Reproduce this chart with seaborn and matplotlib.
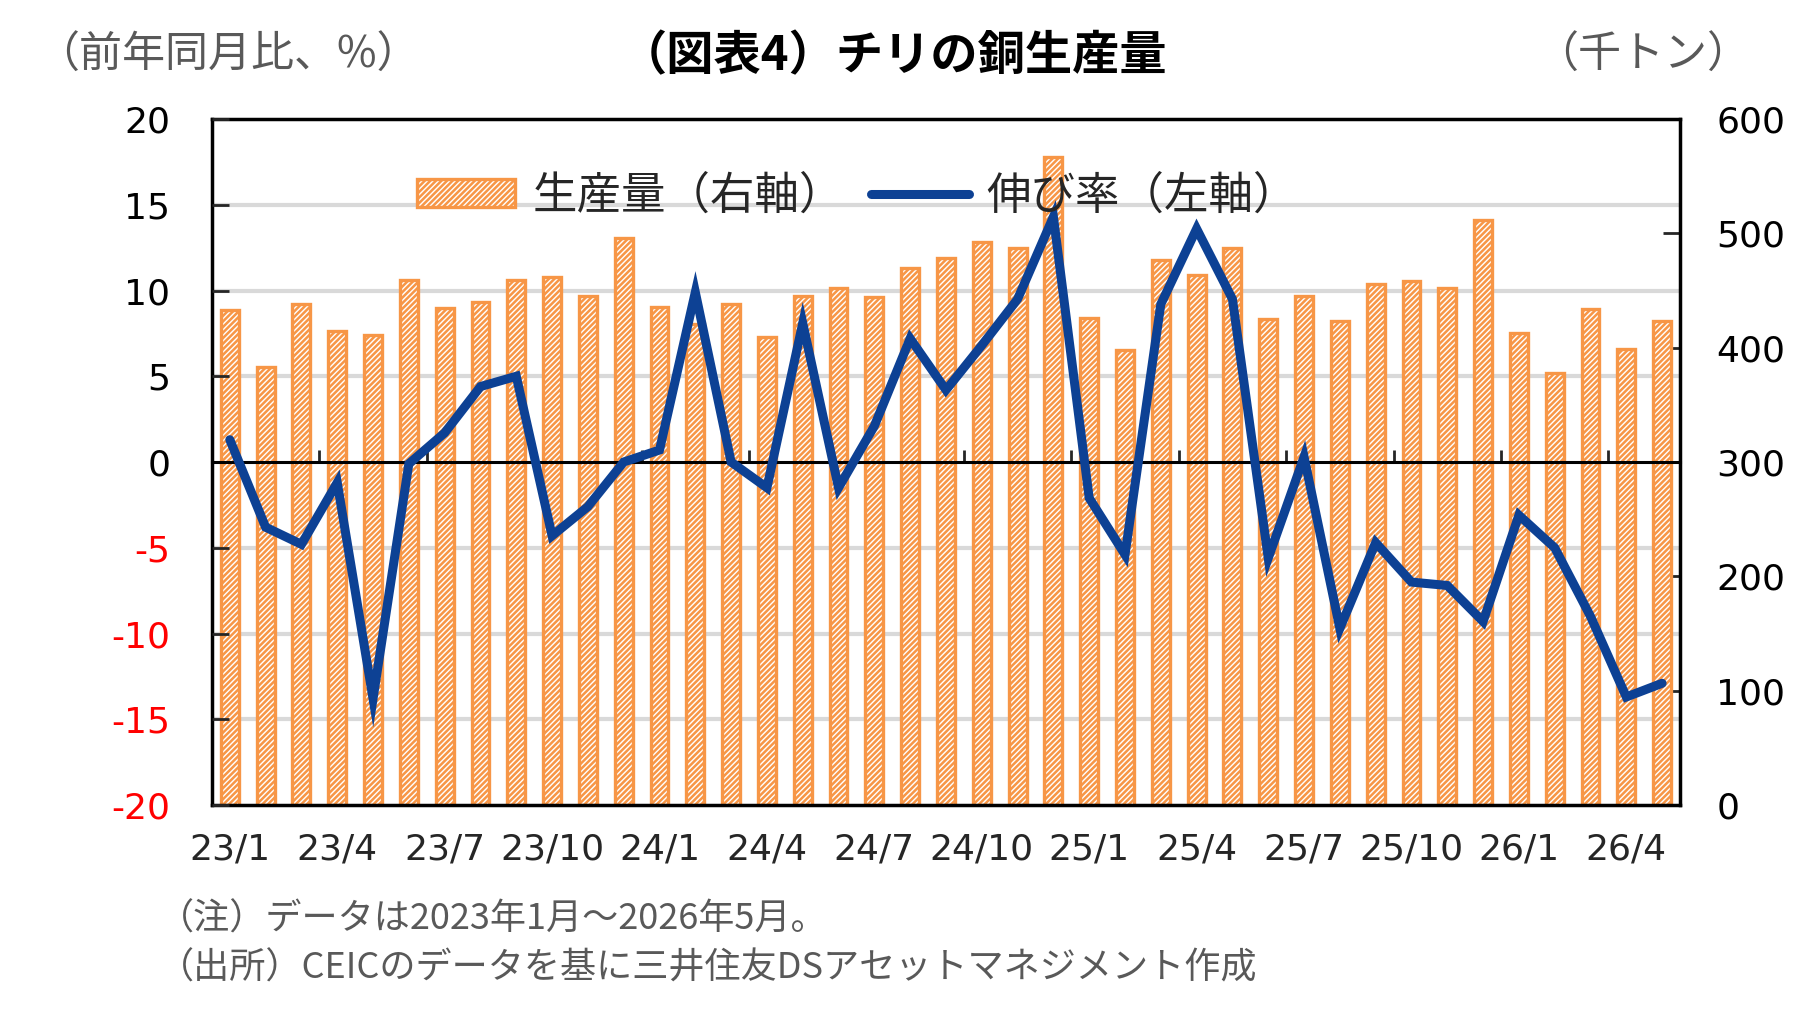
import numpy as np
import pandas as pd
import matplotlib
matplotlib.use("Agg")
import matplotlib.pyplot as plt
from matplotlib.ticker import FixedLocator
from matplotlib.patches import Patch
from matplotlib.lines import Line2D
import seaborn as sns

# ---- data ----
months = [f"{y}/{m}" for y in (23, 24, 25) for m in range(1, 13)] + [f"26/{m}" for m in range(1, 6)]
production = [433, 383, 438, 415, 411, 459, 435, 440, 459, 462, 445, 496,
              436, 421, 438, 409, 445, 452, 444, 470, 478, 492, 487, 567,
              426, 398, 477, 464, 487, 425, 445, 423, 456, 458, 452, 512,
              413, 378, 434, 399, 423]
growth = [1.3, -3.8, -4.8, -1.2, -13.8, -0.1, 1.7, 4.4, 5.0, -4.3, -2.6, 0.0,
          0.7, 9.9, 0.0, -1.5, 8.1, -1.5, 2.1, 7.2, 4.2, 6.8, 9.5, 14.3,
          -2.1, -5.4, 9.2, 13.6, 9.5, -5.6, 0.3, -9.7, -4.7, -7.0, -7.2, -9.3,
          -3.1, -5.0, -9.0, -13.7, -12.9]
left_ticks = [20, 15, 10, 5, 0, -5, -10, -15, -20]
right_ticks = [0, 100, 200, 300, 400, 500, 600]
label_every = 3

df = pd.DataFrame({"month": months, "pos": np.arange(len(months)),
                   "production": production, "growth": growth})

sns.set_theme(style="white")
plt.rcParams["font.family"] = ["Noto Sans CJK JP", "DejaVu Sans"]
plt.rcParams["hatch.linewidth"] = 1.8

ORANGE = "#F79646"
BLUE = "#0D4194"
GRAY = "#595959"
TICKFONT = ["DejaVu Sans"]

fig = plt.figure(figsize=(18.19, 10.18), dpi=100)
rect = [0.1165, 0.2092, 0.8071, 0.6739]
ax = fig.add_axes(rect)
ax.set_facecolor("white")

# bars (right axis)
sns.barplot(data=df, x="month", y="production", ax=ax, color="white",
            width=0.5, saturation=1, zorder=2)
for p in ax.patches:
    p.set_facecolor("white")
    p.set_edgecolor(ORANGE)
    p.set_hatch("//////")
    p.set_linewidth(2.4)
ax.set_ylim(0, 600)
ax.set_xlim(-0.5, len(months) - 0.5)
ax.yaxis.tick_right()
ax.set_yticks(right_ticks)
ax.set_yticklabels([str(t) for t in right_ticks], fontsize=26, color="black", family=TICKFONT)
ax.tick_params(axis="y", direction="in", length=12, width=2, pad=26, right=True, left=False,
               labelright=True, labelleft=False)
ax.set_xticks(range(0, len(months), label_every))
ax.set_xticklabels(months[::label_every], fontsize=26, family=TICKFONT)
ax.tick_params(axis="x", length=0, pad=20)
ax.set_xlabel("")
ax.set_ylabel("")

# gridlines at the left-axis tick values, behind bars
for t in left_ticks:
    if t not in (20, -20, 0):
        ax.axhline((t + 20) / 40 * 600, color="#D9D9D9", lw=3, zorder=0)

for s in ax.spines.values():
    s.set_color("black")
    s.set_linewidth(2.5)

# line (left axis) on an overlay axes
ax2 = fig.add_axes(rect, sharex=None)
ax2.patch.set_alpha(0)
sns.lineplot(data=df, x="pos", y="growth", ax=ax2, color=BLUE, lw=6.5,
             solid_joinstyle="miter", zorder=5, legend=False)
ax2.set_ylim(-20, 20)
ax2.set_xlim(-0.5, len(months) - 0.5)
ax2.yaxis.tick_left()
ax2.set_yticks(left_ticks)
ax2.set_yticklabels([str(t) for t in left_ticks], fontsize=26, family=TICKFONT)
for lab, t in zip(ax2.get_yticklabels(), left_ticks):
    lab.set_color("red" if t < 0 else "black")
ax2.tick_params(axis="y", direction="in", length=12, width=2, pad=30, left=True, right=False)
ax2.set_ylabel("")
ax2.set_xlabel("")
ax2.spines["bottom"].set_position(("data", 0))
ax2.spines["bottom"].set_linewidth(2.2)
ax2.spines["bottom"].set_color("black")
ax2.set_xticks([])
ax2.xaxis.set_minor_locator(FixedLocator(np.arange(label_every - 0.5, len(months) - 1, label_every)))
ax2.tick_params(axis="x", which="minor", direction="in", length=9, width=2, bottom=True,
                labelbottom=False)
for k in ("top", "left", "right"):
    ax2.spines[k].set_visible(False)

# legend
h1 = Patch(facecolor="white", edgecolor=ORANGE, hatch="//////", linewidth=2.4, label="生産量（右軸）")
h2 = Line2D([0], [0], color=BLUE, lw=6.5, label="伸び率（左軸）")
leg = ax2.legend(handles=[h1, h2], loc="center", bbox_to_anchor=(0.44, 0.888), ncol=2,
                 frameon=False, fontsize=32, handlelength=2.2, handleheight=0.6,
                 columnspacing=0.6, handletextpad=0.4)
leg.set_zorder(10)

# texts
fig.text(0.491, 0.945, "（図表4）チリの銅生産量", ha="center", va="center",
         fontsize=34, fontweight="bold", color="black")
fig.text(0.020, 0.945, "（前年同月比、%）", ha="left", va="center", fontsize=31, color=GRAY)
fig.text(0.962, 0.945, "（千トン）", ha="right", va="center", fontsize=31, color=GRAY)
fig.text(0.087, 0.097, "（注）データは2023年1月～2026年5月。", ha="left", va="center",
         fontsize=26, color=GRAY)
fig.text(0.087, 0.049, "（出所）CEICのデータを基に三井住友DSアセットマネジメント作成",
         ha="left", va="center", fontsize=26, color=GRAY)

fig.savefig("out.png", dpi=100, facecolor="white")
